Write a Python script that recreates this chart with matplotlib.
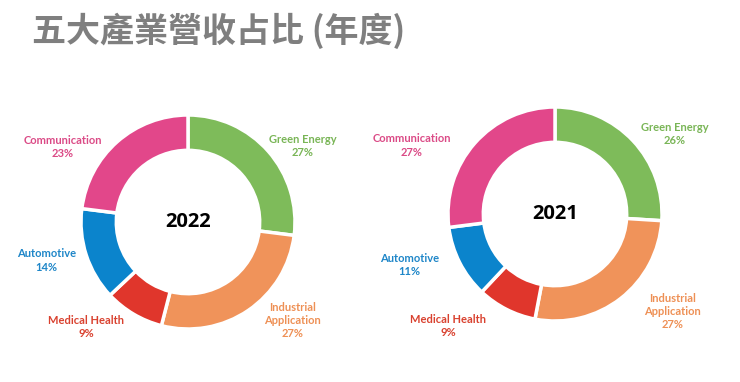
import matplotlib
matplotlib.use("Agg")
import matplotlib.pyplot as plt

plt.rcParams['font.family'] = ['Lato', 'DejaVu Sans']

categories = ["Green Energy", "Industrial\nApplication", "Medical Health", "Automotive", "Communication"]
share_2022 = [27, 27, 9, 14, 23]
share_2021 = [26, 27, 9, 11, 27]
colors = ["#7EBB5A", "#F0935A", "#E0362C", "#0B84CC", "#E2478A"]
label_colors = ["#79B556", "#EE9055", "#D9412F", "#1E86C8", "#DB4A86"]

# label positions (radius = 1)
pos_2022 = [(1.07, 0.71), (0.98, -0.92), (-0.95, -0.98), (-1.32, -0.36), (-1.17, 0.70)]
pos_2021 = [(1.12, 0.75), (1.10, -0.91), (-1.00, -1.05), (-1.36, -0.48), (-1.34, 0.64)]

W, H = 740, 382
fig = plt.figure(figsize=(W / 100, H / 100), dpi=100)
fig.text(32 / W, 1 - 31 / H, "五大產業營收占比 (年度)", fontsize=24.5, color="#7F7F7F",
         family=['Noto Sans CJK TC', 'DejaVu Sans'], weight='bold', va='center', ha='left')

R = 107  # pixel radius
xl, yl = 1.6, 1.45


def donut(cx, cy, values, year, pos):
    ax = fig.add_axes([(cx - xl * R) / W, 1 - (cy + yl * R) / H, 2 * xl * R / W, 2 * yl * R / H])
    ax.pie(values, colors=colors, startangle=90, counterclock=False, radius=1,
           wedgeprops=dict(width=0.33, edgecolor='white', linewidth=2.5))
    ax.set_xlim(-xl, xl)
    ax.set_ylim(-yl, yl)
    ax.axis('off')
    ax.text(0, 0, year, ha='center', va='center', fontsize=14.5, weight='bold', color='black',
            family=['Open Sans', 'DejaVu Sans'])
    for cat, v, (x, y), c in zip(categories, values, pos, label_colors):
        ax.text(x, y, f"{cat}\n{v}%", ha='center', va='center', fontsize=8,
                weight='bold', color=c, linespacing=1.25)


donut(188, 222, share_2022, "2022", pos_2022)
donut(555, 214, share_2021, "2021", pos_2021)

fig.savefig("out.png", dpi=100)
